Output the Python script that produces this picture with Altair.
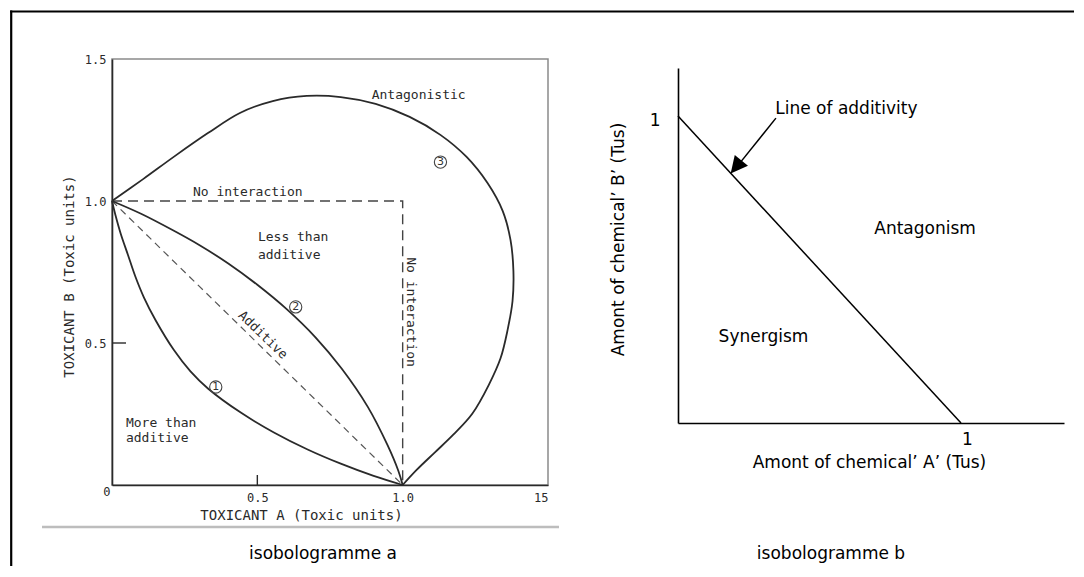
import altair as alt
import pandas as pd

# ---------------- isobologramme a (values in toxic units) ----------------
curve1_x = [0.0, 0.012, 0.03, 0.055, 0.08, 0.11, 0.15, 0.213, 0.27, 0.33, 0.443, 0.557, 0.673, 0.787, 0.9, 1.0]
curve1_y = [1.0, 0.95, 0.885, 0.81, 0.735, 0.66, 0.58, 0.475, 0.4, 0.34, 0.255, 0.185, 0.125, 0.075, 0.032, 0.0]
curve2_x = [0.0, 0.1, 0.213, 0.3, 0.4, 0.5, 0.6, 0.7, 0.79, 0.88, 0.948, 0.985, 1.0]
curve2_y = [1.0, 0.955, 0.895, 0.845, 0.78, 0.705, 0.62, 0.52, 0.41, 0.275, 0.14, 0.05, 0.0]
curve3_x = [0.0, 0.107, 0.216, 0.33, 0.44, 0.553, 0.67, 0.787, 0.907, 1.024, 1.131, 1.22, 1.292,
            1.344, 1.371, 1.381, 1.378, 1.361, 1.337, 1.296, 1.24, 1.175, 1.11, 1.048, 1.0]
curve3_y = [1.0, 1.077, 1.158, 1.239, 1.31, 1.352, 1.37, 1.366, 1.342, 1.296, 1.232, 1.155, 1.063,
            0.965, 0.863, 0.754, 0.648, 0.546, 0.447, 0.352, 0.252, 0.178, 0.114, 0.053, 0.0]
no_interaction_x = [0.0, 1.0, 1.0]
no_interaction_y = [1.0, 1.0, 0.0]
additive_x = [0.0, 1.0]
additive_y = [1.0, 0.0]

a_y_ticks = [0.0, 0.5, 1.0, 1.5]
a_x_ticks = [0.5, 1.0, 1.5]
a_tick_marks = [0.5]

circle_labels = ["1", "2", "3"]
circle_x = [0.357, 0.632, 1.13]
circle_y = [0.345, 0.627, 1.137]

a_center_text = ["Antagonistic", "No interaction"]
a_center_x = [1.055, 0.467]
a_center_y = [1.373, 1.032]
a_left_text = ["Less than", "additive", "More than", "additive"]
a_left_x = [0.502, 0.502, 0.048, 0.048]
a_left_y = [0.873, 0.81, 0.218, 0.165]
a_vert_text = ["No interaction"]
a_vert_x = [1.027]
a_vert_y = [0.609]
a_diag_text = ["Additive"]
a_diag_x = [0.519]
a_diag_y = [0.528]

# ---------------- isobologramme b (values in Tus) ----------------
b_line_x = [0.0, 1.0]
b_line_y = [1.0, 0.0]
b_ticks = [1]
b_text = ["Line of additivity", "Antagonism", "Synergism"]
b_text_x = [0.595, 0.873, 0.302]
b_text_y = [1.023, 0.632, 0.280]
arrow_from = [0.346, 0.993]
arrow_to = [0.224, 0.853]
arrow_head = [0.205, 0.834]

captions = ["isobologramme a", "isobologramme b"]

# ---------------- layout / style ----------------
LW, LH = 436, 426          # left plot area
RW, RH = 386, 364          # right plot area (axis starts 9 px below its top)
INK = "#2a2a2a"
MONO = "DejaVu Sans Mono"
SANS = "DejaVu Sans"
FRAME_W = 2.2


def pts(xs, ys, name=None):
    d = pd.DataFrame({"x": xs, "y": ys, "i": list(range(len(xs)))})
    if name is not None:
        d["curve"] = name
    return d


one = alt.Data(values=[{"k": 0}])

# ---- panel a scales / axes ----
XA = alt.X("x:Q",
           scale=alt.Scale(domain=[0, 1.5], nice=False, zero=False),
           axis=alt.Axis(values=a_x_ticks,
                         labelExpr="datum.value == 1.5 ? '15' : format(datum.value, '.1f')",
                         ticks=False, grid=False, domainColor=INK, domainWidth=1.6,
                         labelFont=MONO, labelFontSize=12, labelColor=INK, labelPadding=7,
                         title="TOXICANT  A   (Toxic units)", titleFont=MONO, titleFontSize=14,
                         titleFontWeight="normal", titleColor=INK, titleX=189, titleY=30,
                         titleAlign="center", titleBaseline="middle"))
YA = alt.Y("y:Q",
           scale=alt.Scale(domain=[0, 1.5], nice=False, zero=False),
           axis=alt.Axis(values=a_y_ticks,
                         labelExpr="datum.value == 0 ? '0' : format(datum.value, '.1f')",
                         ticks=False, grid=False, domainColor=INK, domainWidth=1.6,
                         labelFont=MONO, labelFontSize=12, labelColor=INK,
                         labelPadding={"condition": {"test": "datum.value == 0", "value": 2}, "value": 6},
                         labelOffset={"condition": {"test": "datum.value == 0", "value": 6}, "value": 0},
                         title="TOXICANT  B   (Toxic units)", titleFont=MONO, titleFontSize=14,
                         titleFontWeight="normal", titleColor=INK, titleAngle=270,
                         titleX=-43, titleY=217, titleAlign="center", titleBaseline="middle"))

curves = pd.concat([pts(curve1_x, curve1_y, "1"), pts(curve2_x, curve2_y, "2"),
                    pts(curve3_x, curve3_y, "3")])
solid = alt.Chart(curves).mark_line(interpolate="catmull-rom", color=INK, strokeWidth=1.8).encode(
    x=XA, y=YA, detail="curve:N", order="i:Q")
no_int = alt.Chart(pts(no_interaction_x, no_interaction_y)).mark_line(
    color="#444", strokeWidth=1.4, strokeDash=[10, 6]).encode(x=XA, y=YA, order="i:Q")
additive = alt.Chart(pts(additive_x, additive_y)).mark_line(
    color="#555", strokeWidth=1.2, strokeDash=[7, 5]).encode(x=XA, y=YA, order="i:Q")

ytick = alt.Chart(pd.DataFrame({"x": [0.0] * len(a_tick_marks), "y": a_tick_marks})).mark_rule(
    color=INK, strokeWidth=1.4).encode(x=XA, y=YA, x2=alt.value(14))
xtick = alt.Chart(pd.DataFrame({"x": a_tick_marks, "y": [0.0] * len(a_tick_marks)})).mark_rule(
    color=INK, strokeWidth=1.4).encode(x=XA, y=YA, y2=alt.value(LH - 10))

circ_df = pd.DataFrame({"x": circle_x, "y": circle_y, "t": circle_labels})
circles = alt.Chart(circ_df).mark_point(shape="circle", filled=False, size=150, color="#444",
                                        strokeWidth=1.1, opacity=1).encode(x=XA, y=YA)
circ_txt = alt.Chart(circ_df).mark_text(font=SANS, fontSize=11, color="#333").encode(
    x=XA, y=YA, text="t:N")

t_center = alt.Chart(pd.DataFrame({"x": a_center_x, "y": a_center_y, "t": a_center_text})).mark_text(
    font=MONO, fontSize=13, color=INK, align="center", baseline="middle").encode(x=XA, y=YA, text="t:N")
t_left = alt.Chart(pd.DataFrame({"x": a_left_x, "y": a_left_y, "t": a_left_text})).mark_text(
    font=MONO, fontSize=13, color=INK, align="left", baseline="middle").encode(x=XA, y=YA, text="t:N")
t_vert = alt.Chart(pd.DataFrame({"x": a_vert_x, "y": a_vert_y, "t": a_vert_text})).mark_text(
    font=MONO, fontSize=13, color=INK, align="center", baseline="middle", angle=90).encode(
    x=XA, y=YA, text="t:N")
t_diag = alt.Chart(pd.DataFrame({"x": a_diag_x, "y": a_diag_y, "t": a_diag_text})).mark_text(
    font=MONO, fontSize=13, color=INK, align="center", baseline="middle", angle=44).encode(
    x=XA, y=YA, text="t:N")

# frame of the whole figure, separator and caption (pixel decorations)
top_a = alt.Chart(one).mark_rule(color="black", strokeWidth=FRAME_W).encode(
    x=alt.value(-101.9), x2=alt.value(489), y=alt.value(-47.5))
left_a = alt.Chart(one).mark_rule(color="black", strokeWidth=FRAME_W).encode(
    x=alt.value(-100.8), y=alt.value(-48.6), y2=alt.value(507))
sep_a = alt.Chart(one).mark_rule(color="#bdbdbd", strokeWidth=2.5).encode(
    x=alt.value(-70), x2=alt.value(447), y=alt.value(468))
cap_a = alt.Chart(alt.Data(values=[{"t": captions[0]}])).mark_text(
    font=SANS, fontSize=17, color="black", align="center", baseline="middle").encode(
    x=alt.value(211), y=alt.value(495), text="t:N")

left = alt.layer(top_a, left_a, sep_a, cap_a, no_int, additive, solid, ytick, xtick,
                 circles, circ_txt, t_center, t_left, t_vert, t_diag).properties(
    width=LW, height=LH, view=alt.ViewBackground(stroke="#8a8a8a", strokeWidth=1.5))

# ---- panel b ----
XB = alt.X("x:Q",
           scale=alt.Scale(domain=[0, RW / 283], nice=False, zero=False),
           axis=alt.Axis(values=b_ticks, format="d", ticks=False, grid=False,
                         domainColor="black", domainWidth=1.6,
                         labelFont=SANS, labelFontSize=17, labelColor="black",
                         labelPadding=8, labelOffset=6,
                         title="Amont of chemical\u2019 A\u2019 (Tus)", titleFont=SANS,
                         titleFontSize=17, titleFontWeight="normal", titleColor="black",
                         titleX=191, titleY=39, titleAlign="center", titleBaseline="middle"))
YB = alt.Y("y:Q",
           scale=alt.Scale(domain=[0, 355 / 307], range=[RH, 9], nice=False, zero=False),
           axis=alt.Axis(values=b_ticks, format="d", ticks=False, grid=False,
                         domainColor="black", domainWidth=1.6,
                         labelFont=SANS, labelFontSize=17, labelColor="black",
                         labelPadding=18, labelOffset=4,
                         title="Amont of chemical\u2019 B\u2019 (Tus)", titleFont=SANS,
                         titleFontSize=17, titleFontWeight="normal", titleColor="black",
                         titleAngle=270, titleX=-60, titleY=180,
                         titleAlign="center", titleBaseline="middle"))

b_line = alt.Chart(pts(b_line_x, b_line_y)).mark_line(color="black", strokeWidth=1.5).encode(
    x=XB, y=YB, order="i:Q")
b_txt = alt.Chart(pd.DataFrame({"x": b_text_x, "y": b_text_y, "t": b_text})).mark_text(
    font=SANS, fontSize=17, color="black", align="center", baseline="middle").encode(
    x=XB, y=YB, text="t:N")
arrow_line = alt.Chart(pd.DataFrame({"x": [arrow_from[0]], "y": [arrow_from[1]],
                                     "x2": [arrow_to[0]], "y2": [arrow_to[1]]})).mark_rule(
    color="black", strokeWidth=1.5).encode(x=XB, y=YB, x2="x2:Q", y2="y2:Q")
arrow_tip = alt.Chart(pd.DataFrame({"x": [arrow_head[0]], "y": [arrow_head[1]]})).mark_point(
    shape="M0,-1L1,1L-1,1Z", filled=True, size=289, angle=219, color="black",
    strokeWidth=0, opacity=1).encode(x=XB, y=YB)

top_b = alt.Chart(one).mark_rule(color="black", strokeWidth=FRAME_W).encode(
    x=alt.value(-77), x2=alt.value(396), y=alt.value(-47.5))
cap_b = alt.Chart(alt.Data(values=[{"t": captions[1]}])).mark_text(
    font=SANS, fontSize=17, color="black", align="center", baseline="middle").encode(
    x=alt.value(153), y=alt.value(495), text="t:N")

right = alt.layer(top_b, cap_b, b_line, arrow_line, arrow_tip, b_txt).properties(
    width=RW, height=RH, view=alt.ViewBackground(stroke="transparent"))

chart = alt.hconcat(left, right, spacing=677 - 111 - LW, bounds="flush").properties(
    padding={"left": 0, "top": 0, "right": 0, "bottom": 0},
    background="white"
).configure_view(stroke="transparent")

chart.save("out.html", embed_options={"renderer": "svg", "actions": False})
